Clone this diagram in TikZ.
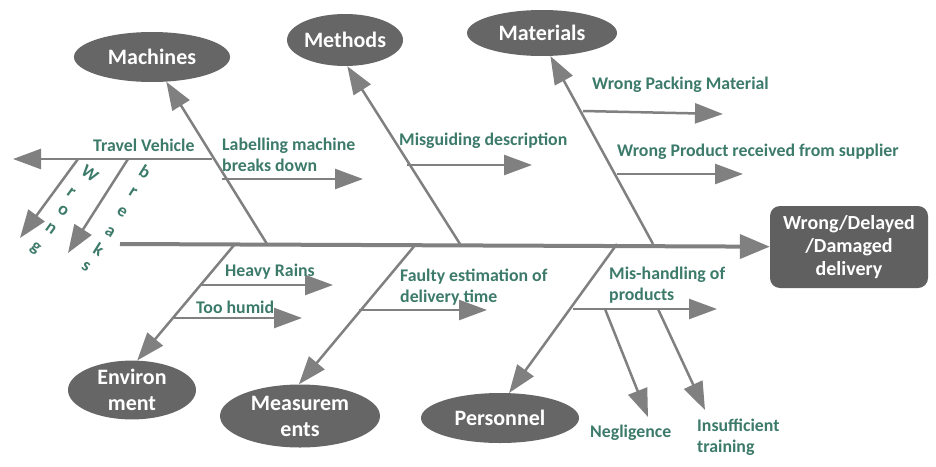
\documentclass[tikz,border=0pt]{standalone}
\usepackage{fontspec}
\setmainfont{Carlito}
\usepackage{tikz}
\usetikzlibrary{arrows.meta,shapes.geometric}
\definecolor{bonegray}{RGB}{128,128,128}
\definecolor{capgray}{RGB}{102,102,102}
\definecolor{headgray}{RGB}{96,96,96}
\definecolor{causegreen}{RGB}{60,122,106}

\begin{document}
\begin{tikzpicture}[x=1pt,y=-1pt,
    cat/.style={ellipse,fill=capgray,text=white,inner sep=0pt,align=center,
                font=\fontsize{22}{26}\selectfont\bfseries},
    cause/.style={text=causegreen,inner sep=0pt,anchor=west,align=left,
                  font=\fontsize{17.8}{21}\selectfont\bfseries},
    letter/.style={text=causegreen,inner sep=0pt,font=\fontsize{18}{18}\selectfont\bfseries},
    bone/.style={draw=bonegray,line width=2.5pt,-{Triangle[length=28pt,width=20pt]}},
    spine/.style={draw=bonegray,line width=4pt,-{Triangle[length=30pt,width=24pt]}}]
  \useasboundingbox (0,0) rectangle (936,466);

  % effect and categories
  \node[fill=headgray,rounded corners=10pt,minimum width=158pt,minimum height=82pt,
        text=white,align=center,font=\fontsize{20}{23}\selectfont\bfseries]
        (head) at (849,247) {Wrong/Delayed\\/Damaged\\delivery};
  \node[cat,minimum width=156pt,minimum height=50pt] (mach) at (152,57) {Machines};
  \node[cat,minimum width=116pt,minimum height=52pt] (meth) at (345,40) {Methods};
  \node[cat,minimum width=150pt,minimum height=46pt] (mat)  at (542,33) {Materials};
  \node[cat,minimum width=128pt,minimum height=56pt] (env)  at (132,390) {Environ\\ment};
  \node[cat,minimum width=160pt,minimum height=63pt] (meas) at (300,416) {Measurem\\ents};
  \node[cat,minimum width=158pt,minimum height=50pt] (pers) at (500,418) {Personnel};

  % spine and main bones
  \coordinate (tail) at (120,244);
  \coordinate (sMach) at (267,244);
  \coordinate (sMeth) at (460,244);
  \coordinate (sMat)  at (653,244);
  \coordinate (sEnv)  at (235,244);
  \coordinate (sMeas) at (416,244);
  \coordinate (sPers) at (617,244);
  \draw[spine] (tail) -- (head);
  \draw[bone] (sMach) -- (mach.-60);
  \draw[bone] (sMeth) -- (meth.-85);
  \draw[bone] (sMat)  -- (mat.-70);
  \draw[bone] (sEnv)  -- (env.80);
  \draw[bone] (sMeas) -- (meas.92);
  \draw[bone] (sPers) -- (pers.70);

  % sub causes
  \foreach \nm/\ax/\ay/\bx/\by in {trav/212/159/13/159, wrg/78/159/20/238, brk/128/159/68/253,
      lab/222/179/363/179, misg/407/165/532/165, pack/583/111/723/114, prod/617/174/743/174,
      rain/200/285/333/285, humid/173/318/302/318, fault/359/310/487/310,
      mish/573/309/717/309, negl/605/309/648/417, insuf/658/309/705/410}{
    \coordinate (\nm-a) at (\ax,\ay);
    \coordinate (\nm-b) at (\bx,\by);
    \draw[bone] (\nm-a) -- (\nm-b);
  }

  % labels
  \node[cause] (travL) at (93,145) {Travel Vehicle};
  \node[cause] (labL)  at (222,155) {Labelling machine\\breaks down};
  \node[cause] (misgL) at (399,141) {Misguiding description};
  \node[cause] (packL) at (592,85)  {Wrong Packing Material};
  \node[cause] (prodL) at (617,152) {Wrong Product received from supplier};
  \node[cause] (rainL) at (225,272) {Heavy Rains};
  \node[cause] (humL)  at (196,307) {Too humid};
  \node[cause] (fauL)  at (400,287) {Faulty estimation of\\delivery time};
  \node[cause] (mishL) at (609,285) {Mis-handling of\\products};
  \node[cause] (negL)  at (590,433) {Negligence};
  \node[cause] (insL)  at (697,437) {Insufficient\\training};

  \foreach \ch/\px/\py in {W/90/174, r/71/193, o/63/211, n/51/229, g/35/249}
    \node[letter,rotate=-36] (wl\ch) at (\px,\py) {\ch};
  \foreach \ch/\px/\py in {b/145/172, r/133/192, e/122/212, a/110/232, k/99/249, s/86/267}
    \node[letter,rotate=-32] (bl\ch) at (\px,\py) {\ch};
\end{tikzpicture}
\end{document}
